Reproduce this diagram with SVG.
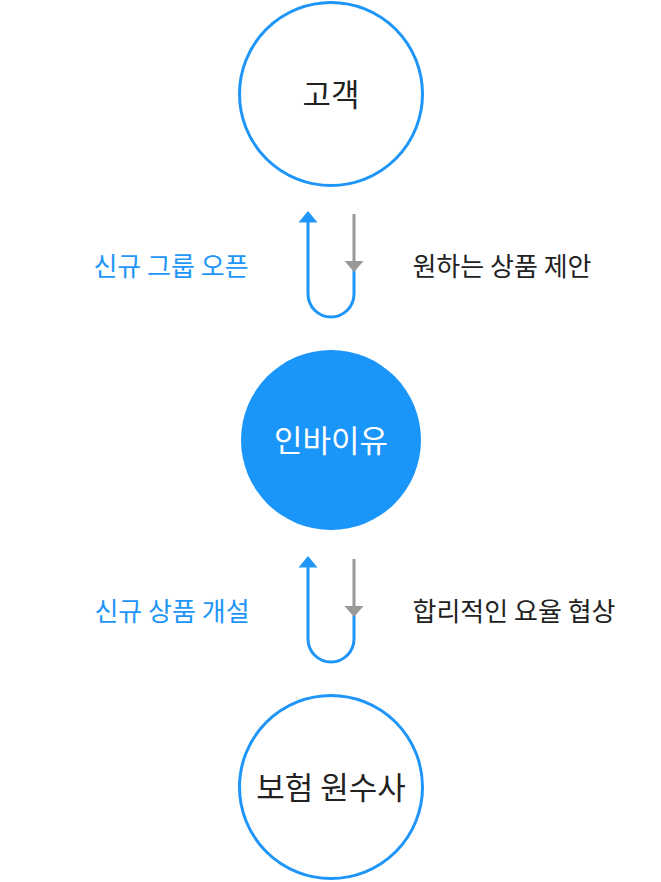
<svg xmlns="http://www.w3.org/2000/svg" width="661" height="882" viewBox="0 0 661 882">
<style>
.ring{fill:#fff;stroke:#1e95f9;stroke-width:3}
.fill{fill:#1a95fa}
.t{font-family:"Noto Sans CJK KR","Noto Sans",sans-serif;text-anchor:middle}
.big{font-size:31px;fill:#222}
.lbl{font-size:26px}
.blue{fill:#1e95f9}
.dark{fill:#222}
.u{fill:none;stroke:#1e95f9;stroke-width:3}
.g{fill:none;stroke:#999;stroke-width:3}
</style>
<defs>
<polygon id="bh" points="0,0 -9.5,11.5 9.5,11.5" fill="#1e95f9"/>
<polygon id="gh" points="0,0 -9.5,-11 9.5,-11" fill="#999"/>
</defs>
<g id="connectors">
<path class="u" d="M308,220 V294 A23,23 0 0 0 354,294 V268"/>
<use href="#bh" x="308" y="211"/>
<path class="g" d="M354,214 V262"/>
<use href="#gh" x="354" y="272"/>
<path class="u" d="M308,565 V639 A23,23 0 0 0 354,639 V613"/>
<use href="#bh" x="308" y="556"/>
<path class="g" d="M354,559 V607"/>
<use href="#gh" x="354" y="617"/>
</g>
<g id="label1"><text class="t lbl blue" x="171" y="276">신규 그룹 오픈</text></g>
<g id="label2"><text class="t lbl dark" x="502" y="276">원하는 상품 제안</text></g>
<g id="label3"><text class="t lbl blue" x="172" y="621">신규 상품 개설</text></g>
<g id="label4"><text class="t lbl dark" x="514" y="621">합리적인 요율 협상</text></g>
<g id="customer"><circle class="ring" cx="331" cy="94" r="91.5"/><text class="t big" x="331" y="105.5">고객</text></g>
<g id="inbyu"><circle class="fill" cx="331" cy="440" r="90"/><text class="t big" x="331" y="451.5" style="fill:#fff">인바이유</text></g>
<g id="insurer"><circle class="ring" cx="331" cy="787" r="91.5"/><text class="t big" x="331" y="798.5">보험 원수사</text></g>
</svg>
